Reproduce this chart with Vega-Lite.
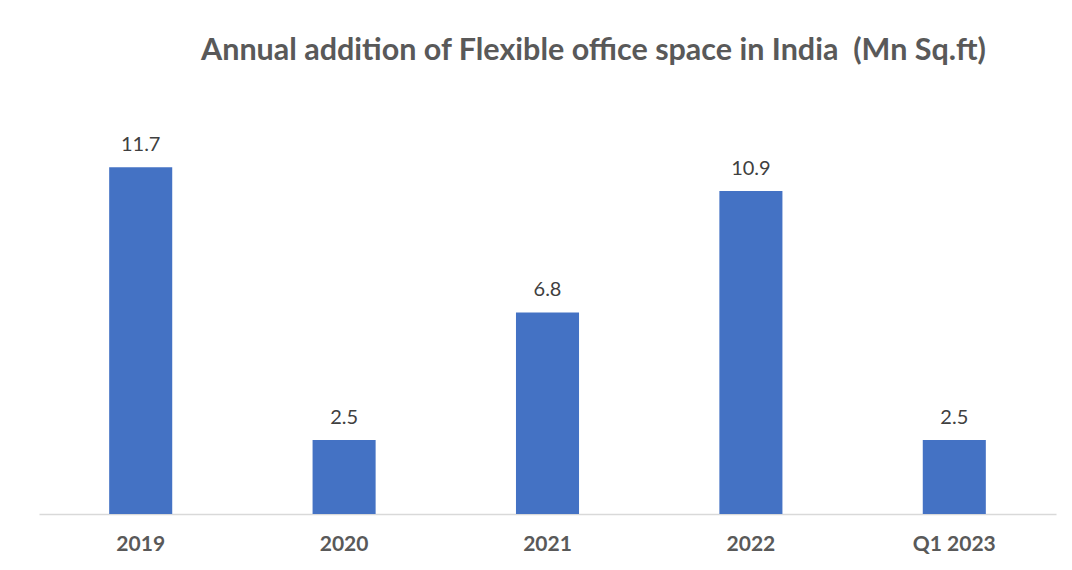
{
  "$schema": "https://vega.github.io/schema/vega-lite/v6.json",
  "autosize": "none",
  "width": 1017,
  "height": 415,
  "padding": {"left": 39, "top": 99, "right": 16, "bottom": 56},
  "background": "white",
  "title": {
    "text": "Annual addition of Flexible office space in India\u00a0\u00a0(Mn Sq.ft)",
    "anchor": "middle",
    "dx": 46,
    "offset": 33,
    "font": "Lato",
    "fontSize": 30.5,
    "fontWeight": "bold",
    "color": "#595959"
  },
  "data": {
    "values": [
      {"period": "2019", "value": 11.7},
      {"period": "2020", "value": 2.5},
      {"period": "2021", "value": 6.8},
      {"period": "2022", "value": 10.9},
      {"period": "Q1 2023", "value": 2.5}
    ]
  },
  "encoding": {
    "x": {
      "field": "period",
      "type": "nominal",
      "sort": null,
      "scale": {"paddingInner": 0.69, "paddingOuter": 0.345},
      "axis": {
        "title": null,
        "labelAngle": 0,
        "ticks": false,
        "domainColor": "#d9d9d9",
        "domainWidth": 1.5,
        "labelFont": "Lato",
        "labelFontSize": 21,
        "labelFontWeight": "bold",
        "labelColor": "#595959",
        "labelPadding": 19
      }
    },
    "y": {
      "field": "value",
      "type": "quantitative",
      "scale": {"domain": [0, 14], "nice": false},
      "axis": null
    }
  },
  "layer": [
    {"mark": {"type": "bar", "color": "#4472C4"}},
    {
      "mark": {"type": "text", "baseline": "bottom", "dy": -12, "font": "Lato", "fontSize": 20, "color": "#404040"},
      "encoding": {"text": {"field": "value", "type": "quantitative", "format": ".1f"}}
    }
  ],
  "config": {"view": {"stroke": null}}
}
